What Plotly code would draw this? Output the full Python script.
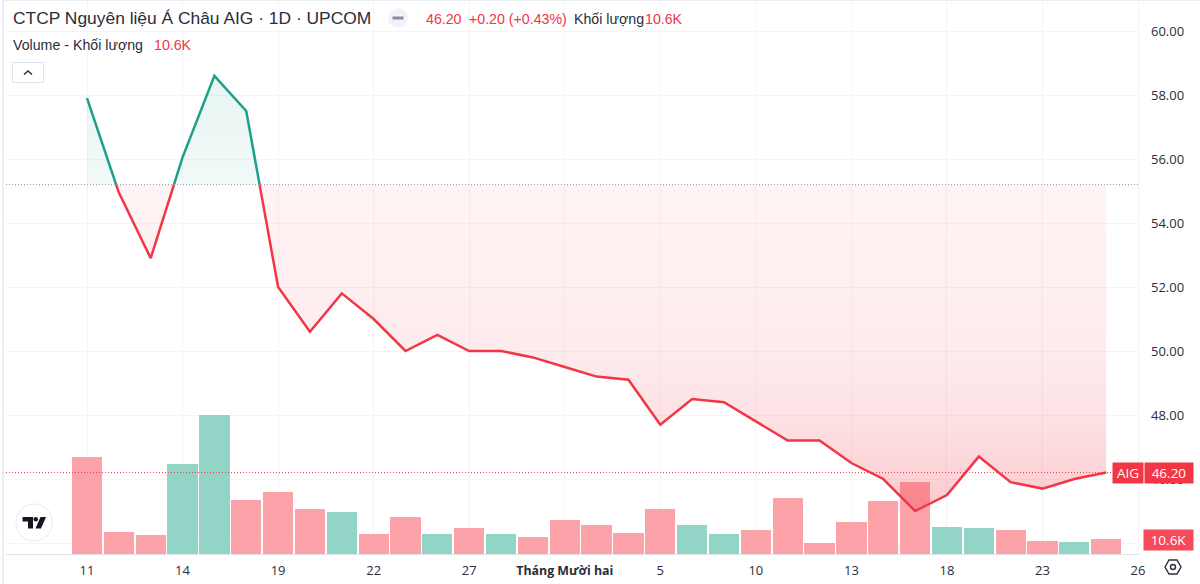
import plotly.graph_objects as go

W, H = 1200, 584
PL, PR, PT, PB = 6, 1140, 2, 554

tick_idx = [0, 3, 6, 9, 12, 15, 18, 21, 24, 27, 30, 33]
tick_txt = ["11", "14", "19", "22", "27", "<b><span style='font-size:12.4px'>Tháng Mười hai</span></b>", "5", "10", "13", "18", "23", "26"]
price = [57.9, 54.95, 52.9, 56.05, 58.6, 57.5, 52.0, 50.6, 51.8, 51.0, 50.0, 50.5, 50.0, 50.0, 49.8, 49.5, 49.2,
         49.1, 47.7, 48.5, 48.4, 47.8, 47.2, 47.2, 46.5, 46.0, 45.0, 45.5, 46.7, 45.9, 45.7, 46.0, 46.2]
volume_k = [68.5, 15.5, 13.4, 63.6, 98.2, 38.2, 43.8, 31.8, 29.7, 14.1, 26.1, 14.1, 18.4, 14.1, 12.0, 24.0, 20.5,
            14.8, 31.8, 20.5, 14.1, 17.0, 39.6, 7.8, 22.6, 37.5, 50.9, 19.1, 18.4, 17.0, 9.2, 8.5, 10.6]
volume_up = [0, 0, 0, 1, 1, 0, 0, 0, 1, 0, 0, 1, 0, 1, 0, 0, 0, 0, 0, 1, 1, 0, 0, 0, 0, 0, 0, 1, 1, 0, 0, 1, 0]
baseline = 55.2
price_ticks = [44, 46, 48, 50, 52, 54, 56, 58, 60]

RED, GREEN = "#F23645", "#1F9E8A"
PINK, TEAL = "#FBA3A9", "#92D5C6"
GRID = "#F5F5F7"
TXT = "#2A2E39"
HFONT = "Liberation Sans"
TFONT = "Open Sans"

days = list(range(len(price)))

# Split the line where it crosses the baseline
seg_x, seg_y = [days[0]], [price[0]]
for i in range(1, len(price)):
    a, b = price[i - 1], price[i]
    if (a - baseline) * (b - baseline) < 0:
        seg_x.append(days[i - 1] + (baseline - a) / (b - a))
        seg_y.append(baseline)
    seg_x.append(days[i])
    seg_y.append(b)


def side(keep):
    lx, ly, px, py = [], [], [], []
    cur_x, cur_y = [], []
    for x, y in zip(seg_x, seg_y):
        if keep(y):
            cur_x.append(x)
            cur_y.append(y)
        else:
            if cur_x:
                lx += cur_x + [None]
                ly += cur_y + [None]
                px += [cur_x[0]] + cur_x + [cur_x[-1], None]
                py += [baseline] + cur_y + [baseline, None]
            cur_x, cur_y = [], []
    if cur_x:
        lx += cur_x
        ly += cur_y
        px += [cur_x[0]] + cur_x + [cur_x[-1]]
        py += [baseline] + cur_y + [baseline]
    return lx, ly, px, py


gx, gy, gpx, gpy = side(lambda v: v >= baseline)
rx, ry, rpx, rpy = side(lambda v: v <= baseline)

SPACING = 31.85
X0 = 87
xr = [(PL - X0) / SPACING, (PR - X0) / SPACING]
YPX = 32.0
yr = [46 - (PB - 479) / YPX, 60 + (31 - PT) / YPX]
VPX = 15 / 10.6

fig = go.Figure()
fig.add_bar(x=days, y=volume_k, yaxis="y", width=0.95,
            marker=dict(color=[TEAL if u else PINK for u in volume_up], line_width=0), hoverinfo="skip")
fig.add_scatter(x=gpx, y=gpy, yaxis="y2", mode="none", fill="toself", hoverinfo="skip",
                fillgradient=dict(type="vertical", start=58.6, stop=baseline,
                                  colorscale=[[0, "rgba(8,153,129,0.10)"], [1, "rgba(8,153,129,0.05)"]]))
fig.add_scatter(x=rpx, y=rpy, yaxis="y2", mode="none", fill="toself", hoverinfo="skip",
                fillgradient=dict(type="vertical", start=baseline, stop=45.0,
                                  colorscale=[[0, "rgba(242,54,69,0.055)"], [0.51, "rgba(242,54,69,0.10)"],
                                              [0.71, "rgba(242,54,69,0.145)"], [0.9, "rgba(242,54,69,0.22)"],
                                              [1, "rgba(242,54,69,0.28)"]]))
fig.add_scatter(x=gx, y=gy, yaxis="y2", mode="lines", line=dict(color=GREEN, width=2.5), hoverinfo="skip")
fig.add_scatter(x=rx, y=ry, yaxis="y2", mode="lines", line=dict(color=RED, width=2.5), hoverinfo="skip")


def px(v):
    return (v - PL) / (PR - PL)


def py(v):
    return (PB - v) / (PB - PT)


def path(pts, close=False):
    s = "M" + " L".join(f"{px(a):.5f},{py(b):.5f}" for a, b in pts)
    return s + (" Z" if close else "")


shapes = [
    dict(type="line", xref="paper", yref="y2", x0=0, x1=1, y0=baseline, y1=baseline,
         line=dict(color="#9598A1", width=1, dash="1px,2px")),
    dict(type="line", xref="paper", yref="y2", x0=0, x1=1, y0=price[-1], y1=price[-1],
         line=dict(color=RED, width=1, dash="1px,2px")),
    # header circle and dash
    dict(type="circle", xref="paper", yref="paper", x0=px(388), x1=px(408), y0=py(28), y1=py(8),
         fillcolor="#F0F3FA", line_width=0),
    dict(type="line", xref="paper", yref="paper", x0=px(392.5), x1=px(403.5), y0=py(18), y1=py(18),
         line=dict(color="#8A8E99", width=3)),
    # collapse button
    dict(type="rect", xref="paper", yref="paper", x0=px(12.5), x1=px(43.5), y0=py(82.5), y1=py(62.5),
         fillcolor="white", line=dict(color="#E0E3EB", width=1)),
    dict(type="path", xref="paper", yref="paper", path=path([(24, 74.5), (28, 71), (32, 74.5)]),
         line=dict(color=TXT, width=1.5)),
    # logo
    dict(type="circle", xref="paper", yref="paper", x0=px(16), x1=px(52.5), y0=py(541), y1=py(504),
         fillcolor="white", line=dict(color="#E9EAEE", width=1)),
    dict(type="path", xref="paper", yref="paper", fillcolor="#131722", line_width=0,
         path=path([(22.5, 517), (33, 517), (33, 528.5), (28, 528.5), (28, 521.5), (22.5, 521.5)], True)),
    dict(type="circle", xref="paper", yref="paper", x0=px(33.5), x1=px(38), y0=py(521.5), y1=py(517),
         fillcolor="#131722", line_width=0),
    dict(type="path", xref="paper", yref="paper", fillcolor="#131722", line_width=0,
         path=path([(40.5, 517), (46, 517), (41, 528.5), (35.5, 528.5)], True)),
    # settings hexagon
    dict(type="path", xref="paper", yref="paper", line=dict(color=TXT, width=1.4),
         path=path([(1165, 567), (1169, 560), (1177, 560), (1181, 567), (1177, 574), (1169, 574)], True)),
    dict(type="circle", xref="paper", yref="paper", x0=px(1170.5), x1=px(1175.5), y0=py(569.5), y1=py(564.5),
         line=dict(color=TXT, width=1.4)),
    # frame
    dict(type="line", xref="paper", yref="paper", x0=px(3), x1=px(3), y0=py(584), y1=py(0),
         line=dict(color="#E6E7EE", width=1.5)),
    dict(type="line", xref="paper", yref="paper", x0=px(3), x1=px(1200), y0=py(0.5), y1=py(0.5),
         line=dict(color="#EDEEF2", width=1)),
]


def label(x, y, text, color=TXT, size=14.2, anchor="left", font=HFONT, **kw):
    return dict(xref="paper", yref="paper", x=px(x), y=py(y), text=text, showarrow=False, xanchor=anchor,
                yanchor="middle", font=dict(family=font, size=size, color=color), **kw)


annotations = [
    label(10.5, 18, "CTCP Nguyên liệu Á Châu AIG · 1D · UPCOM", size=17.4),
    label(423.5, 19, "46.20", RED),
    label(466.5, 19, "+0.20 (+0.43%)", RED),
    label(571.5, 19, "Khối lượng", TXT),
    label(643, 19, "10.6K", RED),
    label(10.5, 45, "Volume - Khối lượng", TXT),
    label(152, 45, "10.6K", RED),
    label(1128, 472.5, "AIG", "white", 13.5, "center", TFONT, bgcolor=RED, borderpad=1, width=28, height=18),
    label(1168.5, 472.5, "46.20", "white", 13.5, "center", TFONT, bgcolor=RED, borderpad=1, width=46, height=18),
    label(1168.5, 539.5, "10.6K", "white", 13.5, "center", TFONT, bgcolor="#F6495A", borderpad=1, width=47, height=18),
]

fig.update_layout(
    width=W, height=H, autosize=False, showlegend=False, plot_bgcolor="white", paper_bgcolor="white",
    margin=dict(l=PL, r=W - PR, t=PT, b=H - PB), bargap=0,
    font=dict(family=TFONT, size=13, color=TXT),
    shapes=shapes, annotations=annotations,
    xaxis=dict(range=xr, tickmode="array", tickvals=tick_idx, ticktext=tick_txt, showgrid=True, gridcolor=GRID,
               gridwidth=1, zeroline=False, showline=True, linecolor="#E0E3EB", linewidth=1, ticks="", ticklabelstandoff=4,
               tickfont=dict(family=TFONT, size=13, color=TXT)),
    yaxis=dict(range=[0, (PB - PT) / (VPX * 1.0)], visible=False, fixedrange=True),
    yaxis2=dict(range=yr, overlaying="y", side="right", tickmode="array", tickvals=price_ticks,
                ticktext=[f"{v:.2f}" for v in price_ticks], showgrid=True, gridcolor=GRID, gridwidth=1, zeroline=False,
                showline=False, ticks="", ticklabelstandoff=10, tickfont=dict(family=TFONT, size=13, color=TXT)),
)
fig.write_html("out.html", config={"displayModeBar": False},
               post_script="document.body.style.margin='0';document.documentElement.style.overflow='hidden';")
